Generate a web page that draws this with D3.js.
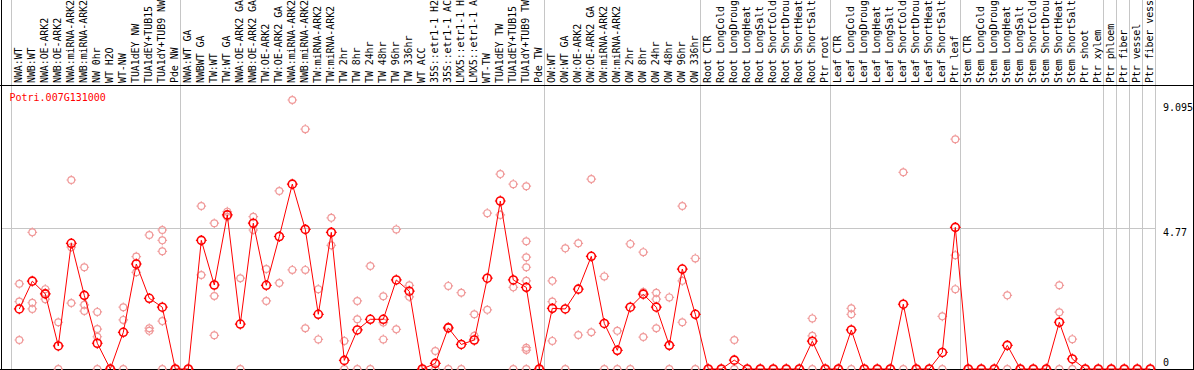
<!DOCTYPE html>
<html>
<head>
<meta charset="utf-8">
<script src="https://cdn.jsdelivr.net/npm/d3@7"></script>
<style>
  body { margin: 0; background: #fff; }
  text { font-family: "DejaVu Sans Mono", monospace; font-size: 10px; }
</style>
</head>
<body>
<div id="chart"></div>
<script>

// sample labels, left to right (as far as the header shows them)
let labels = [
  "NWA:WT", "NWB:WT", "NWA:OE-ARK2", "NWB:OE-ARK2", "NWA:miRNA-ARK2", "NWB:miRNA-ARK2",
  "NW 0hr", "WT H2O", "WT-NW", "TUA1dEY NW", "TUA1dEY+TUB15", "TUA1dY+TUB9 NW", "Pde NW",
  "NWA:WT GA", "NWBWT GA", "TW:WT", "TW:WT GA", "NWA:OE-ARK2 GA", "NWB:OE-ARK2 GA",
  "TW:OE-ARK2", "TW:OE-ARK2 GA", "NWA:miRNA-ARK2", "NWB:miRNA-ARK2", "TW:miRNA-ARK2", "TW:miRNA-ARK2",
  "TW 2hr", "TW 8hr", "TW 24hr", "TW 48hr", "TW 96hr", "TW 336hr", "WT ACC",
  "35S::etr1-1 H2", "35S::etr1-1 AC", "LMX5::etr1-1 H", "LMX5::etr1-1 A",
  "WT-TW", "TUA1dEY TW", "TUA1dEY+TUB15", "TUA1dY+TUB9 TW", "Pde TW",
  "OW:WT", "OW:WT GA", "OW:OE-ARK2", "OW:OE-ARK2 GA", "OW:miRNA-ARK2", "OW:miRNA-ARK2",
  "OW 2hr", "OW 8hr", "OW 24hr", "OW 48hr", "OW 96hr", "OW 336hr",
  "Root CTR", "Root LongCold", "Root LongDroug", "Root LongHeat", "Root LongSalt",
  "Root ShortCold", "Root ShortDrou", "Root ShortHeat", "Root ShortSalt", "Ptr root",
  "Leaf CTR", "Leaf LongCold", "Leaf LongDroug", "Leaf LongHeat", "Leaf LongSalt",
  "Leaf ShortCold", "Leaf ShortDrou", "Leaf ShortHeat", "Leaf ShortSalt", "Ptr leaf",
  "Stem CTR", "Stem LongCold", "Stem LongDroug", "Stem LongHeat", "Stem LongSalt",
  "Stem ShortCold", "Stem ShortDrou", "Stem ShortHeat", "Stem ShortSalt", "Ptr shoot", "Ptr xylem",
  "Ptr phloem", "Ptr fiber", "Ptr vessel", "Ptr fiber vess"
]

// how many samples sit in each experiment block
let groupSizes = [13, 28, 12, 10, 10, 11, 1, 1, 1, 1]

// mean expression per sample
let means = [
  2.03, 2.97, 2.54, 0.78, 4.25, 2.49, 0.87, 0, 1.24, 3.55, 2.39, 2.09, 0,
  0, 4.35, 2.84, 5.21, 1.52, 4.93, 2.83, 4.48, 6.25, 4.72, 1.85, 4.62, 0.29, 1.32,
  1.68, 1.68, 3.01, 2.63, 0, 0.19, 1.39, 0.83, 0.98, 3.07, 5.68, 3.01, 2.76, 0,
  2.05, 2.03, 2.70, 3.81, 1.54, 0.63, 2.09, 2.53, 2.09, 0.80, 3.38, 1.85,
  0, 0, 0.30, 0, 0, 0, 0, 0, 0.94, 0,
  0, 1.32, 0, 0, 0, 2.19, 0, 0, 0.56, 4.79,
  0, 0, 0, 0.80, 0, 0, 0, 1.58, 0.34, 0, 0,
  0, 0, 0, 0
]

// single replicates per sample
let replicates = [
  [2.88, 2.28, 0.98], [4.62, 2.24, 2.03], [2.70, 2.56, 2.36], [1.58, 0], [6.39, 4.12, 2.23],
  [3.44, 2.17, 1.96], [1.93, 1.35, 1.09, 0], [0], [2.09, 1.66, 0], [3.80, 3.27],
  [4.53, 1.38, 1.29], [4.70, 4.35, 3.98, 1.62, 0], [0],
  [0], [5.51, 3.18], [4.93, 2.47, 1.14], [5.32, 5.15], [3.07, 0], [5.15, 4.70], [3.38, 2.30],
  [6.02, 2.91], [9.095, 3.35], [8.11, 3.35, 1.38], [2.70, 1.00], [5.11, 4.18], [0.95, 0],
  [2.30, 1.68, 0], [3.48, 0], [2.46, 1.57, 1.00], [4.72, 1.34], [2.83, 2.44], [0], [0.61, 0],
  [2.81, 1.43, 0], [2.58, 0], [1.85, 1.12], [5.27, 2.00], [6.59, 5.21], [6.25, 2.76, 0],
  [6.18, 4.32, 3.78, 3.44, 2.98, 0.72, 0.64, 0], [0],
  [2.98, 2.28, 0.95], [4.08, 0], [4.25, 1.15], [6.42, 1.24], [3.13, 0], [1.29, 0], [4.23, 0],
  [3.95, 2.60, 1.08], [2.58, 2.36, 1.38], [2.42, 0], [5.51, 2.98, 1.58], [3.74, 0],
  [0], [0], [0.98, 0], [0], [0], [0], [0], [0], [1.71, 1.12, 0], [0],
  [0], [2.05, 1.85, 0], [0], [0], [0], [6.65, 0], [0], [0], [1.78, 0], [7.77, 3.85, 2.70],
  [0], [0], [0], [2.49, 0], [0], [0], [0], [2.83, 1.92, 0], [1.01, 0], [0], [0],
  [0], [0], [0], [0]
]

let yTicks = [0, 4.77, 9.095]
let geneName = "Potri.007G131000"

let width = 1194
let height = 370
let headerY = 85, plotBottom = 369, plotRight = 1155

let svg = d3.select("#chart")
  .append("svg")
  .attr("width", width)
  .attr("height", height)
  .style("display", "block")
  .style("background", "#fff")

let x = d3.scaleBand()
  .domain(d3.range(labels.length))
  .range([11, plotRight])

let y = d3.scaleLinear()
  .domain([0, d3.max(yTicks)])
  .range([plotBottom, 100])

let cx = i => x(i) + 8.3

// group boundaries -> vertical grey lines
let bounds = [0]
groupSizes.forEach(s => bounds.push(bounds[bounds.length - 1] + s))
let boundX = b => b < labels.length ? x(b) : plotRight

svg.append("g")
  .selectAll("line")
  .data(bounds)
  .enter()
  .append("line")
  .attr("x1", d => boundX(d) + 0.5)
  .attr("x2", d => boundX(d) + 0.5)
  .attr("y1", 0)
  .attr("y2", plotBottom)
  .attr("stroke", "#c6c6c6")

// mid gridline
svg.append("line")
  .attr("x1", 1)
  .attr("x2", plotRight)
  .attr("y1", Math.round(y(yTicks[1])) + 0.5)
  .attr("y2", Math.round(y(yTicks[1])) + 0.5)
  .attr("stroke", "#c6c6c6")

// frame
svg.append("line").attr("x1", 0).attr("x2", width).attr("y1", headerY + 0.5).attr("y2", headerY + 0.5).attr("stroke", "#000")
svg.append("line").attr("x1", 0).attr("x2", width).attr("y1", plotBottom + 0.5).attr("y2", plotBottom + 0.5).attr("stroke", "#000")
svg.append("line").attr("x1", 1.5).attr("x2", 1.5).attr("y1", 0).attr("y2", height).attr("stroke", "#000")
svg.append("line").attr("x1", width - 0.5).attr("x2", width - 0.5).attr("y1", 0).attr("y2", height).attr("stroke", "#000")

// rotated sample labels
svg.append("g")
  .selectAll("text")
  .data(labels)
  .enter()
  .append("text")
  .attr("transform", (d, i) => "translate(" + (x(i) + 10.5) + "," + (headerY - 2) + ") rotate(-90)")
  .attr("fill", "#000")
  .style("letter-spacing", "-0.1px")
  .text(d => d)

// right value labels
svg.append("g")
  .selectAll("text")
  .data(yTicks)
  .enter()
  .append("text")
  .attr("x", 1163)
  .attr("y", d => d === 0 ? y(d) - 3.5 : y(d) + (d === d3.max(yTicks) ? 11 : 8.5))
  .attr("fill", "#000")
  .text(d => d)

svg.append("text")
  .attr("x", 9.5)
  .attr("y", 100.5)
  .attr("fill", "#ff0000")
  .text(geneName)

// little ticks round each marker
function ticks(px, py, r, len) {
  return "M" + px + "," + (py - r - len) + "v" + len +
    "M" + px + "," + (py + r) + "v" + len +
    "M" + (px - r - len) + "," + py + "h" + len +
    "M" + (px + r) + "," + py + "h" + len
}

let repPoints = []
replicates.forEach((reps, i) => reps.forEach(v => repPoints.push({i: i, v: v})))

let repG = svg.append("g")
repG.selectAll("circle")
  .data(repPoints)
  .enter()
  .append("circle")
  .attr("cx", d => cx(d.i))
  .attr("cy", d => y(d.v))
  .attr("r", 3.4)
  .attr("fill", "none")
  .attr("stroke", "#f09a9a")
  .attr("stroke-width", 1.2)
repG.selectAll("path")
  .data(repPoints)
  .enter()
  .append("path")
  .attr("d", d => ticks(cx(d.i), y(d.v), 3.4, 1.4))
  .attr("stroke", "#f09a9a")
  .attr("stroke-width", 1.2)

// mean line
let line = d3.line()
  .x((d, i) => cx(i))
  .y(d => y(d))

svg.append("path")
  .datum(means)
  .attr("d", line)
  .attr("fill", "none")
  .attr("stroke", "#ff0000")
  .attr("stroke-width", 1)

let meanG = svg.append("g")
meanG.selectAll("circle")
  .data(means)
  .enter()
  .append("circle")
  .attr("cx", (d, i) => cx(i))
  .attr("cy", d => y(d))
  .attr("r", 4)
  .attr("fill", "none")
  .attr("stroke", "#ff0000")
  .attr("stroke-width", 1.6)
meanG.selectAll("path")
  .data(means)
  .enter()
  .append("path")
  .attr("d", (d, i) => ticks(cx(i), y(d), 4, 1.4))
  .attr("stroke", "#ff0000")
  .attr("stroke-width", 1.2)

</script>
</body>
</html>
